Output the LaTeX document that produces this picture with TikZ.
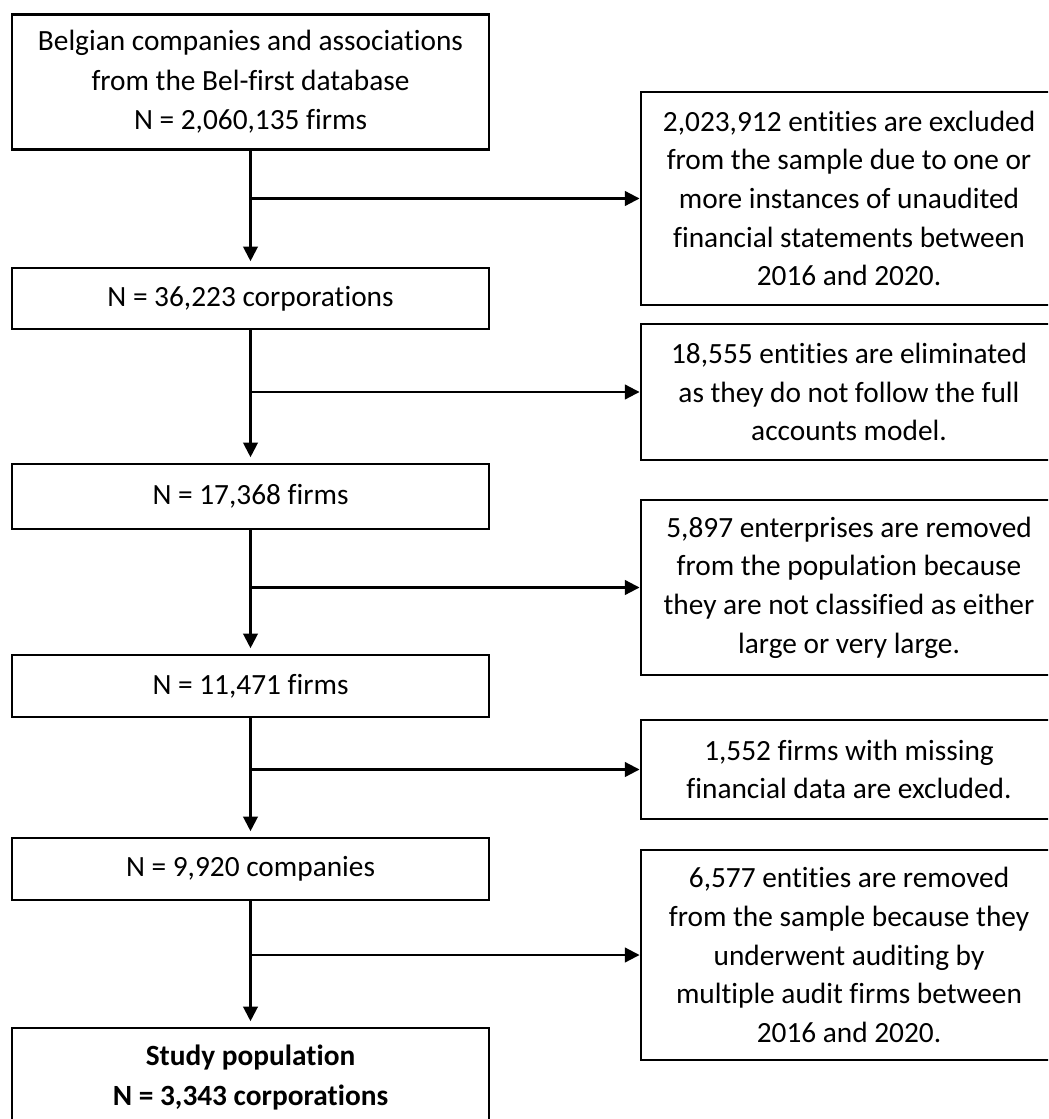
\documentclass[tikz,border=0pt]{standalone}
\usepackage{fontspec}
\setmainfont{Carlito}[Ligatures=NoCommon]
\usetikzlibrary{arrows.meta, positioning, calc}

\begin{document}
\begin{tikzpicture}[x=0.75pt, y=-0.75pt,
    stage/.style={draw, line width=2.2pt, minimum width=357.75pt, inner sep=0pt,
        align=center, font=\fontsize{22}{29.5}\selectfont},
    drop/.style={draw, line width=2.2pt, minimum width=312pt, inner sep=0pt,
        align=center, font=\fontsize{22}{29}\selectfont},
    flow/.style={line width=1.6pt, -{Triangle[length=11pt, width=11pt]}}]

            \useasboundingbox (0,0) rectangle (1048,1119);
            \clip (0,0) rectangle (1048,1119);

            % left column
            \node[stage, minimum height=101.25pt] (S1) at (250.5,82)
                {Belgian companies and associations\\from the Bel-first database\\N = 2,060,135 firms};
            \node[stage, minimum height=45.75pt] (S2) at (250.5,298.5) {N = 36,223 corporations};
            \node[stage, minimum height=48.75pt] (S3) at (250.5,496.5) {N = 17,368 firms};
            \node[stage, minimum height=46.5pt] (S4) at (250.5,686) {N = 11,471 firms};
            \node[stage, minimum height=46.5pt] (S5) at (250.5,869) {N = 9,920 companies};
            \node[stage, minimum height=74.25pt] (S6) at (250.5,1077.5)
                {\bfseries Study population\\\bfseries N = 3,343 corporations};

            % right column (right edge runs past the page)
            \node[drop, minimum height=159.75pt] (X1) at (849,198.5)
                {2,023,912 entities are excluded\\from the sample due to one or\\more instances of unaudited\\financial statements between\\2016 and 2020.};
            \node[drop, minimum height=102pt] (X2) at (849,392)
                {18,555 entities are eliminated\\as they do not follow the full\\accounts model.};
            \node[drop, minimum height=131.25pt] (X3) at (849,587.5)
                {5,897 enterprises are removed\\from the population because\\they are not classified as either\\large or very large.};
            \node[drop, minimum height=74.25pt] (X4) at (849,769.5)
                {1,552 firms with missing\\financial data are excluded.};
            \node[drop, minimum height=157.5pt] (X5) at (849,955)
                {6,577 entities are removed\\from the sample because they\\underwent auditing by\\multiple audit firms between\\2016 and 2020.};

            \foreach \i [count=\j from 2] in {1, ..., 5}{
                \draw[flow, shorten >=4pt] (S\i) -- (S\j);
                \draw[flow] (S\i.south |- X\i.west) -- (X\i.west);
            }

        \end{tikzpicture}
\end{document}
